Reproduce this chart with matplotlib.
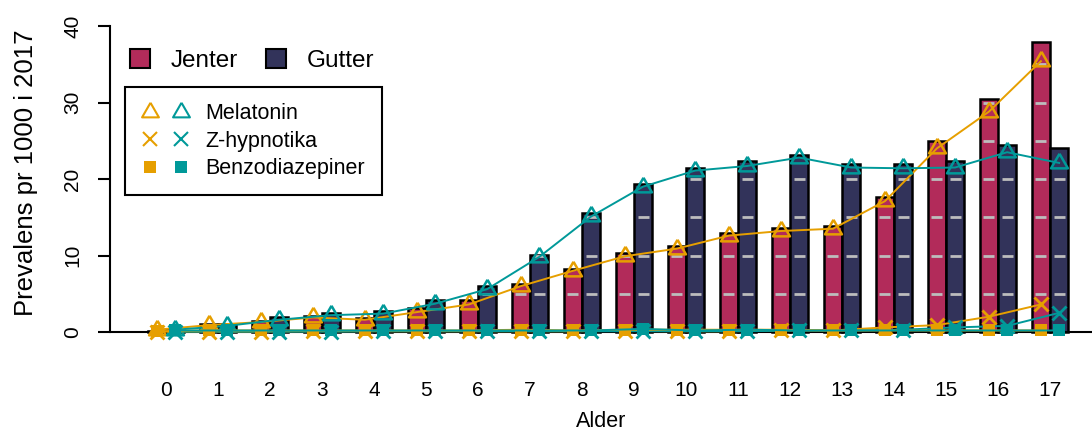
import numpy as np
import matplotlib
matplotlib.use("Agg")
import matplotlib.pyplot as plt
from matplotlib.patches import Patch
from matplotlib.lines import Line2D
from matplotlib.legend_handler import HandlerTuple

plt.rcParams['font.family'] = ['Liberation Sans', 'DejaVu Sans']

#%% data
ages = list(range(18))
jenter = [0.15, 1.0, 1.4, 2.1, 1.8, 3.1, 4.2, 6.3, 8.3, 10.3, 11.2, 12.9, 13.6, 13.9, 17.6, 25.0, 30.5, 37.9]
gutter = [0.2, 1.1, 1.9, 2.5, 2.8, 4.2, 6.0, 10.1, 15.5, 19.4, 21.4, 22.3, 23.1, 21.9, 21.9, 22.3, 24.4, 24.1]

mel_j = [0.3, 0.9, 1.3, 1.9, 1.6, 2.6, 3.6, 6.0, 8.0, 9.9, 10.9, 12.6, 13.2, 13.5, 17.1, 24.0, 28.8, 35.4]
mel_g = [0.3, 0.8, 1.6, 2.2, 2.4, 3.7, 5.6, 9.8, 15.1, 19.0, 21.1, 21.7, 22.8, 21.5, 21.4, 21.5, 23.5, 22.1]
zhyp_j = [0.05, 0.05, 0.05, 0.1, 0.1, 0.1, 0.1, 0.1, 0.1, 0.15, 0.1, 0.1, 0.2, 0.2, 0.6, 0.9, 2.0, 3.6]
zhyp_g = [0.05, 0.05, 0.05, 0.05, 0.1, 0.1, 0.1, 0.1, 0.1, 0.1, 0.1, 0.1, 0.2, 0.2, 0.3, 0.6, 0.8, 2.5]
benzo_j = [0.1, 0.2, 0.2, 0.2, 0.2, 0.2, 0.2, 0.3, 0.2, 0.3, 0.3, 0.3, 0.3, 0.2, 0.2, 0.2, 0.2, 0.2]
benzo_g = [0.2, 0.2, 0.2, 0.2, 0.2, 0.2, 0.2, 0.2, 0.2, 0.4, 0.2, 0.3, 0.2, 0.2, 0.2, 0.2, 0.2, 0.2]

c_jenter = "#B22B5A"
c_gutter = "#32335A"
c_orange = "#E69F00"
c_teal = "#009999"

# R style triangle (pch=2): centroid on the data point
tri = [(0, 1.555), (1.347, -0.778), (-1.347, -0.778), (0, 1.555)]

#%% plot
W, H = 1092, 433
fig = plt.figure(figsize=(W / 100, H / 100), dpi=100)
ax = fig.add_axes([110 / W, 1 - 345 / H, (W - 110) / W, 345 / H])

x = np.array(ages, dtype=float)
bw = 0.35
xj = x - bw / 2
xg = x + bw / 2

ax.bar(xj, jenter, width=bw, color=c_jenter, edgecolor="black", linewidth=1.8, zorder=2)
ax.bar(xg, gutter, width=bw, color=c_gutter, edgecolor="black", linewidth=1.8, zorder=2)

# light grey dashes inside the bars every 5 units
for xs, hs in ((xj, jenter), (xg, gutter)):
    for xc, h in zip(xs, hs):
        lev = np.arange(5, h, 5)
        if len(lev):
            ax.hlines(lev, xc - bw * 0.3, xc + bw * 0.3, colors="#BDBDBD", linewidth=2, zorder=3)

ax.axhline(0, color="black", linewidth=1.5, zorder=2.5)

ms_tri = 14
ax.plot(xj, mel_j, color=c_orange, lw=1.4, marker=tri, ms=ms_tri, mfc="none", mew=1.8, zorder=5, clip_on=False)
ax.plot(xg, mel_g, color=c_teal, lw=1.4, marker=tri, ms=ms_tri, mfc="none", mew=1.8, zorder=5, clip_on=False)
ax.plot(xj, zhyp_j, color=c_orange, lw=1.4, marker="x", ms=10, mew=2, zorder=5, clip_on=False)
ax.plot(xg, zhyp_g, color=c_teal, lw=1.4, marker="x", ms=10, mew=2, zorder=5, clip_on=False)
ax.plot(xj, benzo_j, color=c_orange, lw=1.4, marker="s", ms=8, mew=0, zorder=5, clip_on=False)
ax.plot(xg, benzo_g, color=c_teal, lw=1.4, marker="s", ms=8, mew=0, zorder=5, clip_on=False)

ax.set_xlim((110 - 166) / 52, (W - 166) / 52)
ax.set_ylim(-13 / 7.65, 332 / 7.65)

for s in ("top", "right", "bottom"):
    ax.spines[s].set_visible(False)
ax.spines["left"].set_bounds(0, 40)
ax.spines["left"].set_linewidth(1.5)

ax.set_yticks([0, 10, 20, 30, 40])
ax.tick_params(axis="y", length=9, width=1.5, pad=11, labelsize=15)
for lab in ax.get_yticklabels():
    lab.set_rotation(90)
    lab.set_va("center")

ax.set_xticks(x)
ax.set_xticklabels([str(a) for a in ages])
ax.tick_params(axis="x", length=0, pad=26, labelsize=15)

ax.set_xlabel("Alder", fontsize=15.5)
ax.xaxis.set_label_coords(0.5, -0.19)
ax.set_ylabel("Prevalens pr 1000 i 2017", fontsize=18.5, labelpad=18)

# legends
leg1 = ax.legend(handles=[Patch(facecolor=c_jenter, edgecolor="black", lw=1.5),
                          Patch(facecolor=c_gutter, edgecolor="black", lw=1.5)],
                 labels=["Jenter", "Gutter"], ncol=2, frameon=False, fontsize=17.5,
                 handlelength=0.82, handleheight=0.82, handletextpad=0.85, columnspacing=1.15,
                 loc="upper left", bbox_to_anchor=(118 / W, 1 - 37 / H),
                 bbox_transform=fig.transFigure, borderpad=0)
ax.add_artist(leg1)

def mk(color, marker, **kw):
    return Line2D([], [], color=color, linestyle="none", marker=marker, **kw)

h_mel = (mk(c_orange, tri, ms=ms_tri, mfc="none", mew=1.5), mk(c_teal, tri, ms=ms_tri, mfc="none", mew=1.5))
h_z = (mk(c_orange, "x", ms=10, mew=1.5), mk(c_teal, "x", ms=10, mew=1.5))
h_b = (mk(c_orange, "s", ms=8, mew=0), mk(c_teal, "s", ms=8, mew=0))
leg2 = ax.legend(handles=[h_mel, h_z, h_b], labels=["Melatonin", "Z-hypnotika", "Benzodiazepiner"],
                 handler_map={tuple: HandlerTuple(ndivide=None, pad=0.6)},
                 fontsize=15.5, handlelength=2.25, handletextpad=0.75, labelspacing=0.3,
                 loc="upper left", bbox_to_anchor=(125 / W, 1 - 87 / H),
                 bbox_transform=fig.transFigure, fancybox=False, framealpha=1,
                 edgecolor="black", borderpad=0.75, borderaxespad=0)
leg2.get_frame().set_linewidth(1.5)

fig.savefig("out.png", dpi=100)
